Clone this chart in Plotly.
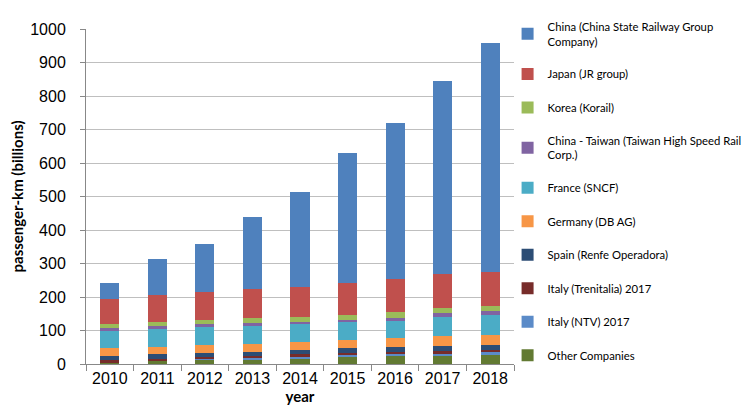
import plotly.graph_objects as go

years = ["2010", "2011", "2012", "2013", "2014", "2015", "2016", "2017", "2018"]

# stacked from bottom to top
other = [4, 9, 12, 14, 17, 20, 25, 25, 27]
italy_ntv = [0, 0, 2, 4, 5, 6, 5, 6, 8]
italy_trenitalia = [7, 6, 8, 7, 8, 6, 7, 8, 7]
spain = [13, 14, 12, 12, 12, 15, 15, 16, 15]
germany = [23, 23, 24, 24, 23, 24, 26, 28, 30]
france = [51, 53, 51, 53, 53, 54, 51, 58, 58]
taiwan = [8, 9, 9, 7, 8, 7, 9, 10, 12]
korea = [12, 12, 13, 15, 14, 14, 17, 16, 15]
japan = [77, 81, 85, 87, 90, 97, 100, 101, 104]
china = [46, 105, 143, 215, 283, 388, 464, 578, 681]

series = [
    ("Other Companies", other, "#627A32"),
    ("Italy (NTV) 2017", italy_ntv, "#5B8BC8"),
    ("Italy (Trenitalia) 2017", italy_trenitalia, "#772C2A"),
    ("Spain (Renfe Operadora)", spain, "#2C4D75"),
    ("Germany (DB AG)", germany, "#F79646"),
    ("France (SNCF)", france, "#4BACC6"),
    ("China - Taiwan (Taiwan High Speed Rail<br>Corp.)", taiwan, "#8064A2"),
    ("Korea (Korail)", korea, "#9BBB59"),
    ("Japan (JR group)", japan, "#C0504D"),
    ("China (China State Railway Group<br>Company)", china, "#4F81BD"),
]

fig = go.Figure()
n = len(series)
for i, (name, vals, col) in enumerate(series):
    fig.add_trace(go.Bar(
        x=years, y=vals, name=name, marker_color=col,
        marker_line_width=0, legendgroup="g%d" % i,
        legendrank=100 + (n - i),
    ))

# page body adds an 8px offset; figure is sized to fill the rest of the window
fig.update_layout(
    width=742, height=406,
    barmode="stack", bargap=0.6,
    paper_bgcolor="white", plot_bgcolor="white",
    margin=dict(l=78, r=236, t=21, b=50, autoexpand=False),
    font=dict(family="Liberation Sans, Arial, sans-serif", size=16, color="#000000"),
    legend=dict(
        x=0.985, xanchor="left", y=1.049, yanchor="top",
        traceorder="grouped", tracegroupgap=14.5,
        maxheight=400,
        font=dict(family="Lato, Open Sans, sans-serif", size=11.3, color="#000000"),
        bgcolor="rgba(0,0,0,0)",
    ),
    showlegend=True,
)

fig.update_xaxes(
    showline=True, linecolor="#888888", linewidth=1,
    ticks="outside", tickson="boundaries", ticklen=6, tickcolor="#888888",
    showgrid=False, automargin=False,
    tickfont=dict(family="Liberation Sans, Arial, sans-serif", size=16),
    title=dict(text="<b>year</b>", font=dict(family="Lato, sans-serif", size=15), standoff=5),
)
fig.update_yaxes(
    range=[0, 1000], dtick=100,
    showline=True, linecolor="#888888", linewidth=1,
    ticks="outside", ticklen=5, tickcolor="#888888",
    showgrid=True, gridcolor="#BFBFBF", gridwidth=1,
    zeroline=False, automargin=False,
    tickfont=dict(family="Liberation Sans, Arial, sans-serif", size=16),
    ticklabelstandoff=11,
    title=dict(text="<b>passenger-km (billions)</b>", font=dict(family="Lato, sans-serif", size=15), standoff=10),
)

fig.write_html("out.html")
